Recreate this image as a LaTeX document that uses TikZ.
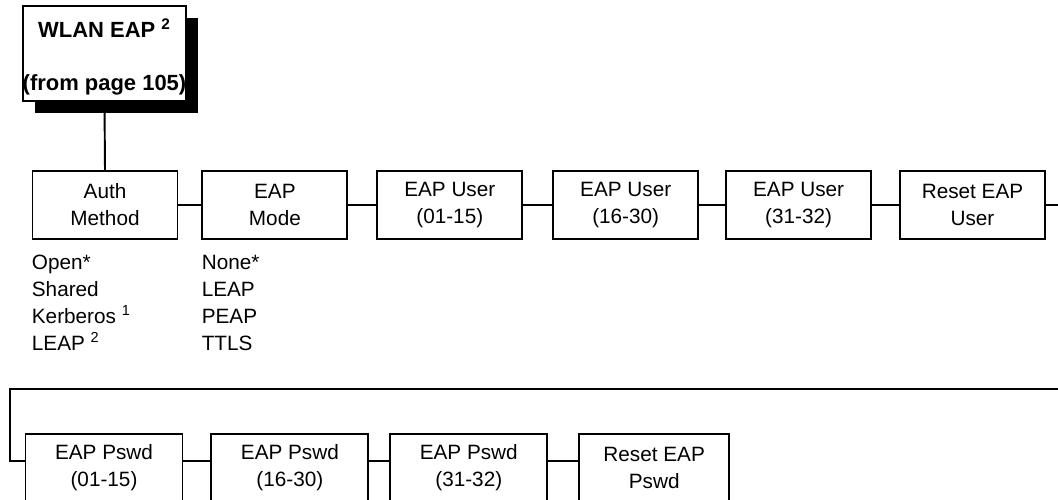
\documentclass[tikz,border=0pt]{standalone}
\usepackage{fontspec}
\setmainfont{Liberation Sans}
\usetikzlibrary{positioning, shadows}
\tikzset{
    menubox/.style={rectangle, draw=black, line width=1.1pt, minimum width=2.9cm, minimum height=1.36cm, inner sep=0pt, align=center, font=\fontsize{11.8}{15.3}\selectfont},
    pswdbox/.style={menubox, minimum width=3.14cm},
    headbox/.style={rectangle, draw=black, fill=white, line width=1.1pt, minimum width=3.22cm, minimum height=1.9cm, inner sep=0pt, align=center, font=\bfseries\fontsize{12.5}{15.3}\selectfont, drop shadow={shadow xshift=0.24cm, shadow yshift=-0.24cm, fill=black, opacity=1}},
    optlist/.style={anchor=north west, inner sep=0pt, align=left, font=\fontsize{11.8}{15.3}\selectfont},
    link/.style={line width=1.1pt, black},
}

\begin{document}
\begin{tikzpicture}[x=0.02cm, y=-0.02cm]
\useasboundingbox (0,0) rectangle (1058,500);
\clip (0,0) rectangle (1058,500);

% Entry point
\node[headbox] (wlan) at (104.5,53.5) {\rule{0pt}{14.5pt}WLAN EAP \textsuperscript{2}\\[14.8pt](from page 105)};

% Top row
\node[menubox] (auth) at (105,205) {Auth\\Method};
\node[menubox,right=4.6mm of auth] (mode) {EAP\\Mode};
\node[menubox,right=5.6mm of mode] (userA) {EAP User\\(01-15)};
\node[menubox,right=5.8mm of userA] (userB) {EAP User\\(16-30)};
\node[menubox,right=5.2mm of userB] (userC) {EAP User\\(31-32)};
\node[menubox,right=5.4mm of userC] (userR) {Reset EAP\\User};

% Option lists
\node[optlist] (authopts) at ([yshift=-0.3cm]auth.south west) {Open*\\Shared\\Kerberos \textsuperscript{1}\\LEAP \textsuperscript{2}};
\node[optlist] (modeopts) at ([yshift=-0.3cm]mode.south west) {None*\\LEAP\\PEAP\\TTLS};

% Bottom row
\node[pswdbox] (pswdA) at (104,468) {EAP Pswd\\(01-15)};
\node[pswdbox,right=5.4mm of pswdA] (pswdB) {EAP Pswd\\(16-30)};
\node[pswdbox,right=4mm of pswdB] (pswdC) {EAP Pswd\\(31-32)};
\node[pswdbox,minimum width=3cm,right=6mm of pswdC] (pswdR) {Reset EAP\\Pswd};

\coordinate (topend) at (1058,205);
\coordinate (wrapR) at (1058,389);
\coordinate (wrapL) at (10,389);

% Connections
\draw[link] (wlan.south) -- (auth.north);
\draw[link] (auth) -- (mode);
\draw[link] (mode) -- (userA);
\draw[link] (userA) -- (userB);
\draw[link] (userB) -- (userC);
\draw[link] (userC) -- (userR);
\draw[link] (userR.east) -- (topend);
\draw[link] (wrapR) -- (wrapL) |- ([yshift=0.14cm]pswdA.west);
\draw[link] ([yshift=0.14cm]pswdA.east) -- ([yshift=0.14cm]pswdB.west);
\draw[link] ([yshift=0.14cm]pswdB.east) -- ([yshift=0.14cm]pswdC.west);
\draw[link] ([yshift=0.14cm]pswdC.east) -- ([yshift=0.14cm]pswdR.west);
\end{tikzpicture}
\end{document}
